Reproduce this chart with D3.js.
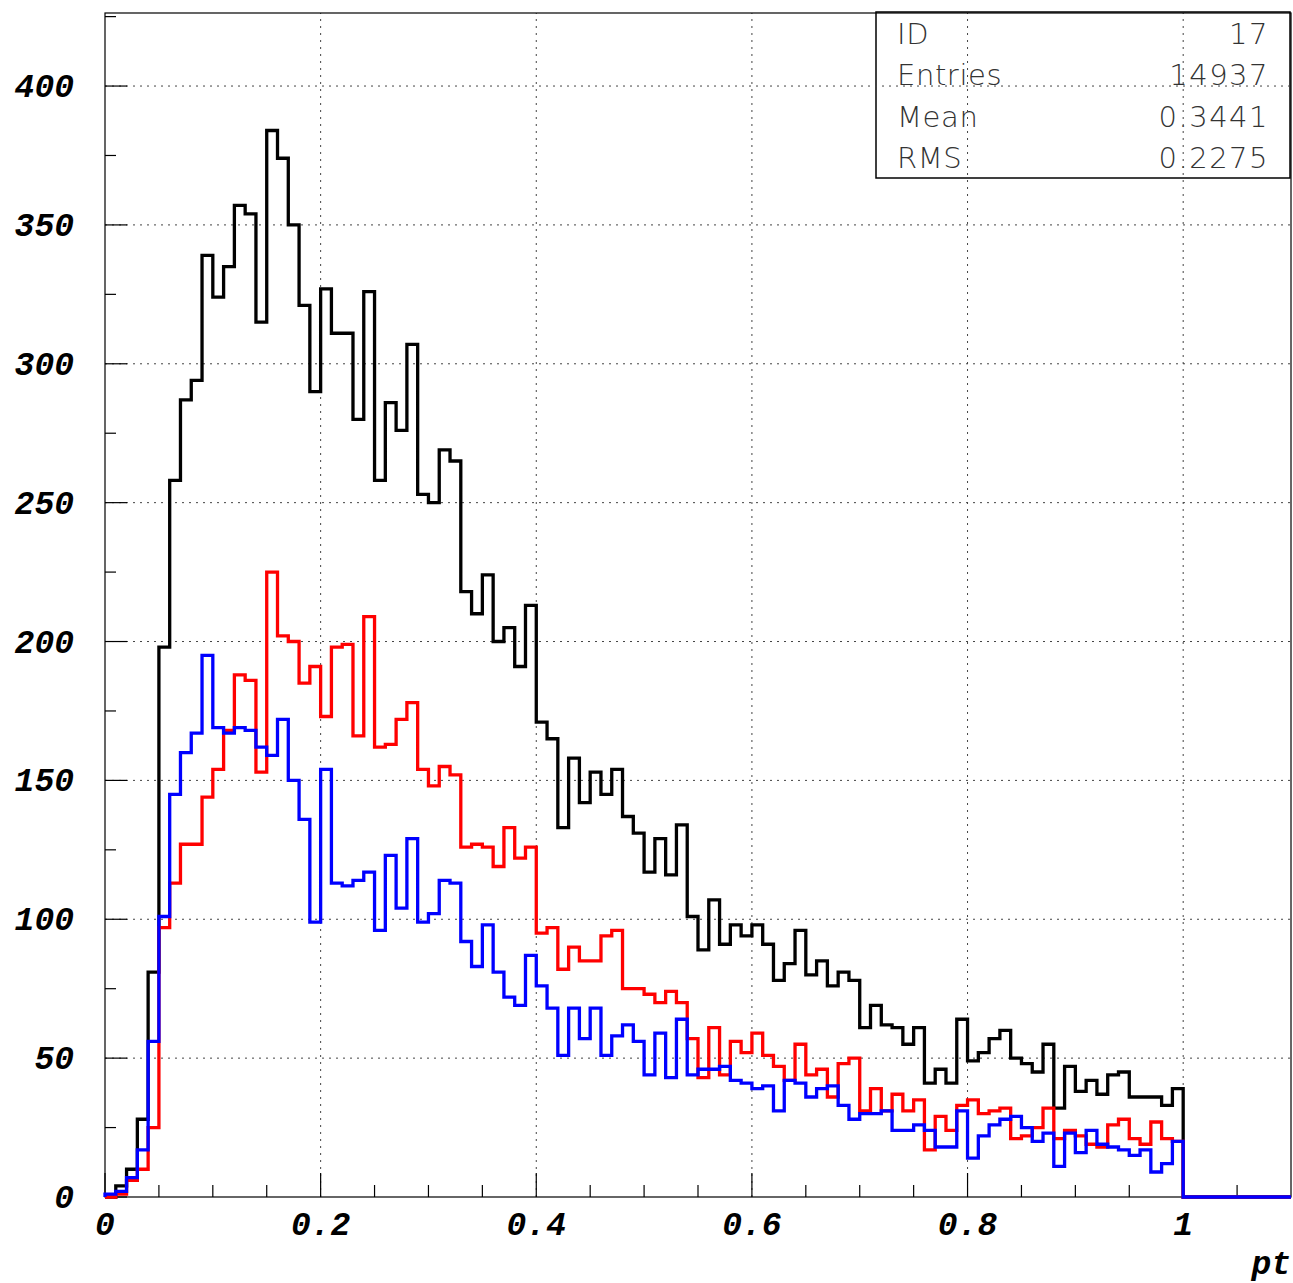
<!DOCTYPE html>
<html><head><meta charset="utf-8">
<script src="https://cdn.jsdelivr.net/npm/d3@7"></script>
<style>html,body{margin:0;padding:0;background:#fff;}svg{display:block;}</style>
</head><body>
<svg id="c" width="1293" height="1283"></svg>
<script>
// ---- data ----
const binWidth = 0.01;
const xDomain = [0, 1.1];
const yDomain = [0, 426.3];
const xMajorTicks = [0, 0.2, 0.4, 0.6, 0.8, 1];
const xTickLabels = ["0", "0.2", "0.4", "0.6", "0.8", "1"];
const xMinorTicks = [0.05,0.1,0.15,0.25,0.3,0.35,0.45,0.5,0.55,0.65,0.7,0.75,0.85,0.9,0.95,1.05];
const yMajorTicks = [0, 50, 100, 150, 200, 250, 300, 350, 400];
const yTickLabels = ["0", "50", "100", "150", "200", "250", "300", "350", "400"];
const yMinorTicks = [25, 75, 125, 175, 225, 275, 325, 375, 425];
const xTitle = "pt";
const statsLabels = ["ID", "Entries", "Mean", "RMS"];
const statsValues = ["17", "14937", "0.3441", "0.2275"];

const blackCounts = [0,4,10,28,81,198,258,287,294,339,
 324,335,357,354,315,384,374,350,321,290,
 327,311,311,280,326,258,286,276,307,253,
 250,269,265,218,210,224,200,205,191,213,
 171,165,133,158,142,153,145,154,137,131,
 117,129,116,134,101,89,107,91,98,94,
 98,91,78,84,96,80,85,76,81,78,
 61,69,62,61,55,61,41,46,41,64,
 49,52,57,60,50,48,45,55,32,47,
 38,42,37,44,45,36,36,36,33,39,
 0,0,0,0,0,0,0,0,0,0];
const redCounts = [0,1,6,10,25,97,113,127,127,144,
 154,168,188,186,153,225,202,200,185,191,
 173,198,199,166,209,162,163,172,178,154,
 148,155,152,126,127,126,119,133,122,126,
 95,97,82,90,85,85,94,96,75,75,
 73,70,74,70,57,43,61,44,56,52,
 59,51,47,42,55,44,46,36,48,50,
 31,39,31,37,31,35,17,29,24,33,
 35,30,31,32,21,22,25,32,21,24,
 22,19,18,26,28,21,19,27,21,20,
 0,0,0,0,0,0,0,0,0,0];
const blueCounts = [1,2,7,17,56,101,145,160,167,195,
 169,167,169,168,162,159,172,150,136,99,
 154,113,112,114,117,96,123,104,129,99,
 102,114,113,92,83,98,81,72,69,87,
 76,68,51,68,57,68,51,58,62,56,
 44,59,43,64,44,46,46,47,42,41,
 39,40,31,42,41,36,39,40,33,28,
 30,30,31,24,24,26,24,18,18,31,
 14,22,26,28,29,25,20,23,11,23,
 16,24,19,18,17,15,17,9,12,20,
 0,0,0,0,0,0,0,0,0,0];

const series = [
  {name: "all", counts: blackCounts, color: "#000000"},
  {name: "red", counts: redCounts, color: "#ff0000"},
  {name: "blue", counts: blueCounts, color: "#0000ff"}
];

// ---- layout ----
const L = 105, R = 1291, T = 13, B = 1197;
const svg = d3.select("#c");
const x = d3.scaleLinear().domain(xDomain).range([L, R]);
const y = d3.scaleLinear().domain(yDomain).range([B, T]);

// stats box (drawn before grid: grid overlays it)
const box = svg.append("g");
box.append("rect").attr("x", 876).attr("y", 12).attr("width", 414).attr("height", 166)
  .attr("fill", "#fff").attr("stroke", "#000").attr("stroke-width", 1.5);
const statsFont = "'DejaVu Sans', sans-serif";
statsLabels.forEach((s, i) => {
  box.append("text").attr("x", 897).attr("y", 44 + i * 41.4).text(s)
    .attr("font-family", statsFont).attr("font-weight", 200)
    .attr("font-size", 29).attr("letter-spacing", 0.6).attr("fill", "#333");
  box.append("text").attr("x", 1269).attr("y", 44 + i * 41.4).text(statsValues[i])
    .attr("text-anchor", "end")
    .attr("font-family", statsFont).attr("font-weight", 200)
    .attr("font-size", 29).attr("letter-spacing", 1.5).attr("fill", "#333");
});

// grid
const grid = svg.append("g").attr("stroke", "#444").attr("stroke-width", 1).attr("stroke-dasharray", "2,5");
xMajorTicks.filter(t => t > 0).forEach(t => {
  grid.append("line").attr("x1", x(t)).attr("x2", x(t)).attr("y1", B).attr("y2", T);
});
yMajorTicks.filter(t => t > 0).forEach(t => {
  grid.append("line").attr("x1", L).attr("x2", R).attr("y1", y(t)).attr("y2", y(t));
});

// frame
svg.append("rect").attr("x", L).attr("y", T).attr("width", R - L).attr("height", B - T)
  .attr("fill", "none").attr("stroke", "#000").attr("stroke-width", 1.2);

// ticks
const ticks = svg.append("g").attr("stroke", "#000").attr("stroke-width", 1.2);
yMajorTicks.forEach(t => ticks.append("line").attr("x1", L).attr("x2", L + 22).attr("y1", y(t)).attr("y2", y(t)));
yMinorTicks.forEach(t => ticks.append("line").attr("x1", L).attr("x2", L + 11).attr("y1", y(t)).attr("y2", y(t)));
xMajorTicks.forEach(t => ticks.append("line").attr("x1", x(t)).attr("x2", x(t)).attr("y1", B).attr("y2", B - 24));
xMinorTicks.forEach(t => ticks.append("line").attr("x1", x(t)).attr("x2", x(t)).attr("y1", B).attr("y2", B - 12));

// histograms
function histPath(counts) {
  const p = d3.path();
  p.moveTo(x(0), y(0));
  counts.forEach((c, i) => {
    p.lineTo(x(i * binWidth), y(c));
    p.lineTo(x((i + 1) * binWidth), y(c));
  });
  p.lineTo(x(counts.length * binWidth), y(0));
  return p.toString();
}
svg.append("g").selectAll("path").data(series).join("path")
  .attr("d", d => histPath(d.counts))
  .attr("fill", "none").attr("stroke", d => d.color).attr("stroke-width", 3.3)
  .attr("stroke-linejoin", "miter");

// labels
const labelFont = "'Liberation Mono', 'Courier New', monospace";
svg.append("g").selectAll("text").data(yMajorTicks).join("text")
  .attr("x", 74).attr("y", d => y(d) + 11).attr("text-anchor", "end")
  .text((d, i) => yTickLabels[i])
  .attr("font-family", labelFont).attr("font-weight", "bold").attr("font-style", "italic")
  .attr("font-size", 33).attr("fill", "#000");
svg.append("g").selectAll("text").data(xMajorTicks).join("text")
  .attr("x", d => x(d)).attr("y", 1235).attr("text-anchor", "middle")
  .text((d, i) => xTickLabels[i])
  .attr("font-family", labelFont).attr("font-weight", "bold").attr("font-style", "italic")
  .attr("font-size", 33).attr("fill", "#000");
svg.append("text").attr("x", 1291).attr("y", 1274).attr("text-anchor", "end").text(xTitle)
  .attr("font-family", labelFont).attr("font-weight", "bold").attr("font-style", "italic")
  .attr("font-size", 33).attr("fill", "#000");
</script>
</body></html>
